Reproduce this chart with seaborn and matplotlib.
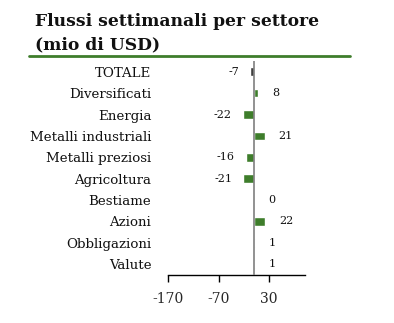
import matplotlib
matplotlib.use("Agg")
import matplotlib.pyplot as plt
import seaborn as sns
import pandas as pd

categories = ["TOTALE", "Diversificati", "Energia", "Metalli industriali",
              "Metalli preziosi", "Agricoltura", "Bestiame", "Azioni",
              "Obbligazioni", "Valute"]
flows = [-7, 8, -22, 21, -16, -21, 0, 22, 1, 1]
tick_values = [-170, -70, 30]

df = pd.DataFrame({"settore": categories, "flusso": flows})
palette = {c: ("#3f3f3f" if c == "TOTALE" else "#3e7d2b") for c in categories}

sns.set_theme(style="white")
plt.rcParams["font.family"] = ["DejaVu Serif", "Liberation Serif"]

fig = plt.figure(figsize=(3.94, 3.23), dpi=100)
ax = fig.add_axes([0.4264, 0.149, 0.348, 0.662])

sns.barplot(data=df, x="flusso", y="settore", hue="settore", palette=palette,
            orient="h", width=0.4, legend=False, ax=ax, saturation=1)

ax.set_xlim(-170, 101)
ax.set_xticks(tick_values)
ax.set_xticklabels([str(v) for v in tick_values], fontsize=10)
ax.set_xlabel("")
ax.set_ylabel("")
ax.tick_params(axis="x", direction="out", length=5, width=1, color="black",
               pad=7, bottom=True)
ax.tick_params(axis="y", length=0, pad=12, labelsize=9.6)
for lbl in ax.get_yticklabels():
    lbl.set_color("#111111")

for s in ["top", "right", "left"]:
    ax.spines[s].set_visible(False)
ax.spines["bottom"].set_color("black")
ax.spines["bottom"].set_linewidth(1)

# zero line
ax.axvline(0, color="#7f7f7f", lw=1.2, zorder=3)

# value labels
for i, v in enumerate(flows):
    if v < 0:
        ax.annotate(str(v), (v, i), xytext=(-8, 0), textcoords="offset points",
                    ha="right", va="center", fontsize=8, color="#111111")
    else:
        ax.annotate(str(v), (v, i), xytext=(10, 0), textcoords="offset points",
                    ha="left", va="center", fontsize=8, color="#111111")

fig.text(0.09, 0.918, "Flussi settimanali per settore", fontsize=12.3,
         fontweight="bold", ha="left", va="baseline", color="#111111")
fig.text(0.09, 0.846, "(mio di USD)", fontsize=12.3,
         fontweight="bold", ha="left", va="baseline", color="#111111")
fig.add_artist(plt.Line2D([0.073, 0.888], [0.826, 0.826], color="#3e7d2b",
                          lw=2, transform=fig.transFigure))

fig.savefig("out.png", dpi=100, facecolor="white")
